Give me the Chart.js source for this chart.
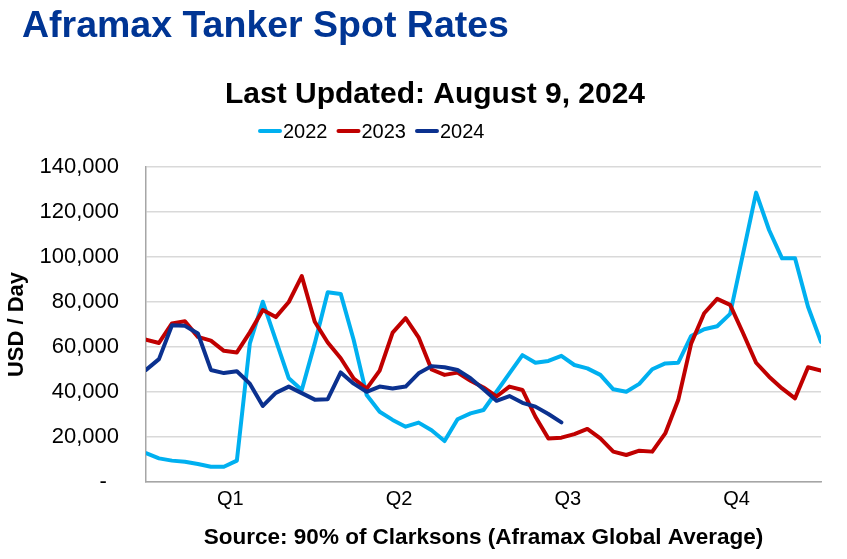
<!DOCTYPE html>
<html>
<head>
<meta charset="utf-8">
<title>Aframax Tanker Spot Rates</title>
<script src="https://cdn.jsdelivr.net/npm/chart.js@4.4.1/dist/chart.umd.min.js"></script>
<style>
  body { margin: 0; background: #fff; }
  #wrap { width: 847px; height: 559px; position: relative; }
</style>
</head>
<body>
<div id="wrap"><canvas id="rates"></canvas></div>
<script>
const mainTitle = "Aframax Tanker Spot Rates";
const subTitle = "Last Updated: August 9, 2024";
const yAxisTitle = "USD / Day";
const sourceNote = "Source: 90% of Clarksons (Aframax Global Average)";

const seriesNames = ["2022", "2023", "2024"];
const seriesColors = ["#00B0F0", "#C00000", "#0B318F"];

// quarter labels sit between weeks on the axis
const quarterLabels = ["Q1", "Q2", "Q3", "Q4"];
const quarterWeeks = [6.5, 19.5, 32.5, 45.5];

// weekly USD/day
const rates2022 = [
	12800, 10500, 9500, 9000, 8000, 6800, 6800, 9500,
	61600, 80100, 63100, 46100, 40900, 61600, 84300, 83600, 63100,
	38700, 31200, 27600, 24600, 26400, 23000,
	18200, 27900, 30500, 32000, 40100, 48300, 56400,
	53000, 53800, 56100, 52000, 50500, 47600, 41200,
	40100, 43600, 50100, 52700, 53000, 64900, 67900, 69200,
	74700, 101600, 128600, 112000, 99400, 99400, 77900, 62300,
];
const rates2023 = [
	63300, 61800, 70500, 71400, 64500, 62800, 58300, 57600,
	66500, 76400, 73300, 80000, 91500, 71200, 62000,
	55000, 46000, 41500, 49500, 66400, 72800, 64300,
	50000, 47600, 48600, 45000, 42000, 38000, 42400, 40900,
	29000, 19300, 19700, 21300, 23600, 19400, 13500, 12000, 13900, 13500,
	21600, 36400, 61600, 75000, 81400, 78700, 66100, 53000, 46800, 41600, 37200, 51000, 49500,
];
const rates2024 = [
	49800, 54600, 69700, 69400, 66000, 49800, 48400, 49200,
	43700, 33800, 39600, 42400, 39500, 36600, 36800,
	48700, 43700, 40100, 42400, 41600, 42400, 48300, 51500,
	51000, 49800, 46100, 41200, 36100, 38200, 35200, 33500, 30200, 26500,
];

const allSeries = [rates2022, rates2023, rates2024];
const fontFamily = "'Liberation Sans', Arial, sans-serif";

Chart.defaults.font.family = fontFamily;
Chart.defaults.color = "#000";

const toPoints = (values) => values.map((v, i) => ({ x: i, y: v }));

const headerText = {
	id: "headerText",
	afterDraw(chart) {
		const ctx = chart.ctx;
		ctx.save();
		ctx.textAlign = "left";
		ctx.textBaseline = "alphabetic";
		ctx.fillStyle = "#003594";
		ctx.font = "bold 37.5px " + fontFamily;
		ctx.fillText(mainTitle, 22, 37);

		ctx.fillStyle = "#000";
		ctx.font = "bold 30px " + fontFamily;
		ctx.textAlign = "center";
		ctx.fillText(subTitle, 435, 103);

		// legend row
		ctx.font = "20px " + fontFamily;
		ctx.textAlign = "left";
		ctx.textBaseline = "middle";
		let x = 258;
		const y = 131;
		chart.data.datasets.forEach((ds) => {
			ctx.strokeStyle = ds.borderColor;
			ctx.lineWidth = 4;
			ctx.lineCap = "round";
			ctx.beginPath();
			ctx.moveTo(x + 2, y);
			ctx.lineTo(x + 22, y);
			ctx.stroke();
			ctx.fillStyle = "#000";
			ctx.fillText(ds.label, x + 25, y + 1);
			x += 25 + ctx.measureText(ds.label).width + 9;
		});
		ctx.restore();
	},
};

new Chart(document.getElementById("rates"), {
	type: "line",
	data: {
		datasets: allSeries.map((values, i) => ({
			label: seriesNames[i],
			data: toPoints(values),
			borderColor: seriesColors[i],
			backgroundColor: seriesColors[i],
			borderWidth: 4,
			borderJoinStyle: "round",
			borderCapStyle: "round",
			pointRadius: 0,
			tension: 0,
			order: allSeries.length - i,
		})),
	},
	options: {
		responsive: true,
		maintainAspectRatio: false,
		animation: false,
		layout: { padding: { left: 0, right: 26, top: 167, bottom: 0 } },
		plugins: {
			legend: { display: false },
			title: { display: false },
			tooltip: { enabled: false },
		},
		scales: {
			x: {
				type: "linear",
				min: 0,
				max: allSeries[0].length - 1,
				grid: { display: false, drawTicks: false },
				border: { display: true, color: "#a6a6a6", width: 1.5 },
				afterBuildTicks: (scale) => {
					scale.ticks = quarterWeeks.map((w) => ({ value: w }));
				},
				ticks: {
					autoSkip: false,
					maxRotation: 0,
					padding: 5,
					font: { size: 20 },
					callback: (value) => quarterLabels[quarterWeeks.indexOf(value)],
				},
				title: {
					display: true,
					text: sourceNote,
					font: { size: 22.5, weight: "bold" },
					padding: { top: 4, bottom: 8 },
				},
				afterFit: (scale) => {
					scale.height = 77;
				},
			},
			y: {
				min: 0,
				max: 140000,
				grid: { color: "#d9d9d9", lineWidth: 1.5, drawTicks: false, tickLength: 0 },
				border: { display: true, color: "#a6a6a6", width: 1.5 },
				ticks: {
					stepSize: 20000,
					padding: 27,
					font: { size: 22 },
					callback: (value) => (value === 0 ? "-  " : value.toLocaleString("en-US")),
				},
				title: {
					display: true,
					text: yAxisTitle,
					font: { size: 22, weight: "bold" },
					padding: { top: 4, bottom: 2 },
				},
				afterFit: (scale) => {
					scale.width = 146;
				},
			},
		},
	},
	plugins: [headerText],
});
</script>
</body>
</html>
